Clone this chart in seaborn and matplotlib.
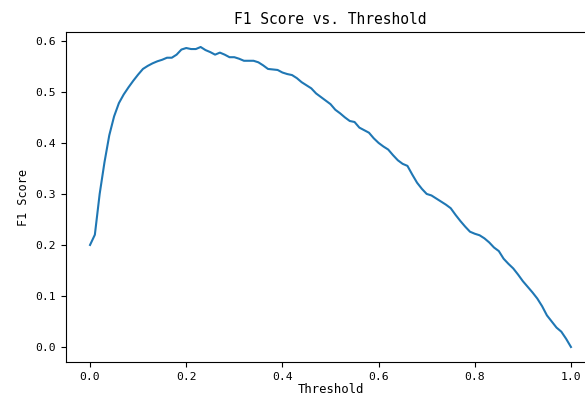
import numpy as np
import matplotlib
matplotlib.use("Agg")
import matplotlib.pyplot as plt
import seaborn as sns

# thresholds 0.00 .. 1.00 in steps of 0.01
thresholds = np.round(np.arange(0, 101) / 100, 2)

# F1 score
f1_scores = [
    0.200, 0.220, 0.300, 0.362, 0.415, 0.452, 0.478, 0.495, 0.509, 0.522,
    0.534, 0.545, 0.551, 0.556, 0.560, 0.563, 0.567, 0.567, 0.573, 0.583,
    0.586, 0.584, 0.584, 0.588, 0.582, 0.578, 0.573, 0.577, 0.573, 0.568,
    0.568, 0.565, 0.561, 0.561, 0.561, 0.558, 0.552, 0.545, 0.544, 0.543,
    0.538, 0.535, 0.533, 0.527, 0.519, 0.513, 0.507, 0.497, 0.490, 0.483,
    0.476, 0.465, 0.458, 0.450, 0.443, 0.441, 0.430, 0.425, 0.420, 0.409,
    0.400, 0.393, 0.387, 0.376, 0.366, 0.359, 0.355, 0.338, 0.322, 0.310,
    0.300, 0.297, 0.291, 0.285, 0.279, 0.272, 0.259, 0.247, 0.236, 0.226,
    0.222, 0.219, 0.213, 0.205, 0.195, 0.188, 0.173, 0.163, 0.154, 0.142,
    0.129, 0.118, 0.107, 0.095, 0.080, 0.062, 0.050, 0.038, 0.030, 0.016,
    0.000,
]

plt.rcParams['font.family'] = ['DejaVu Sans Mono']

fig = plt.figure(figsize=(5.85, 3.97), dpi=100)
# axes run past the right edge, like the cropped original
ax = fig.add_axes([66 / 585, 35 / 397, 529 / 585, 330 / 397])

sns.lineplot(x=thresholds, y=f1_scores, ax=ax, color="#1f77b4", linewidth=1.5)

ax.set_title("F1 Score vs. Threshold", fontsize=10.5)
ax.set_xlabel("Threshold", fontsize=8.8, labelpad=1)
ax.set_ylabel("F1 Score", fontsize=8.5)
ax.tick_params(labelsize=8.2)

fig.savefig("out.png", dpi=100)
